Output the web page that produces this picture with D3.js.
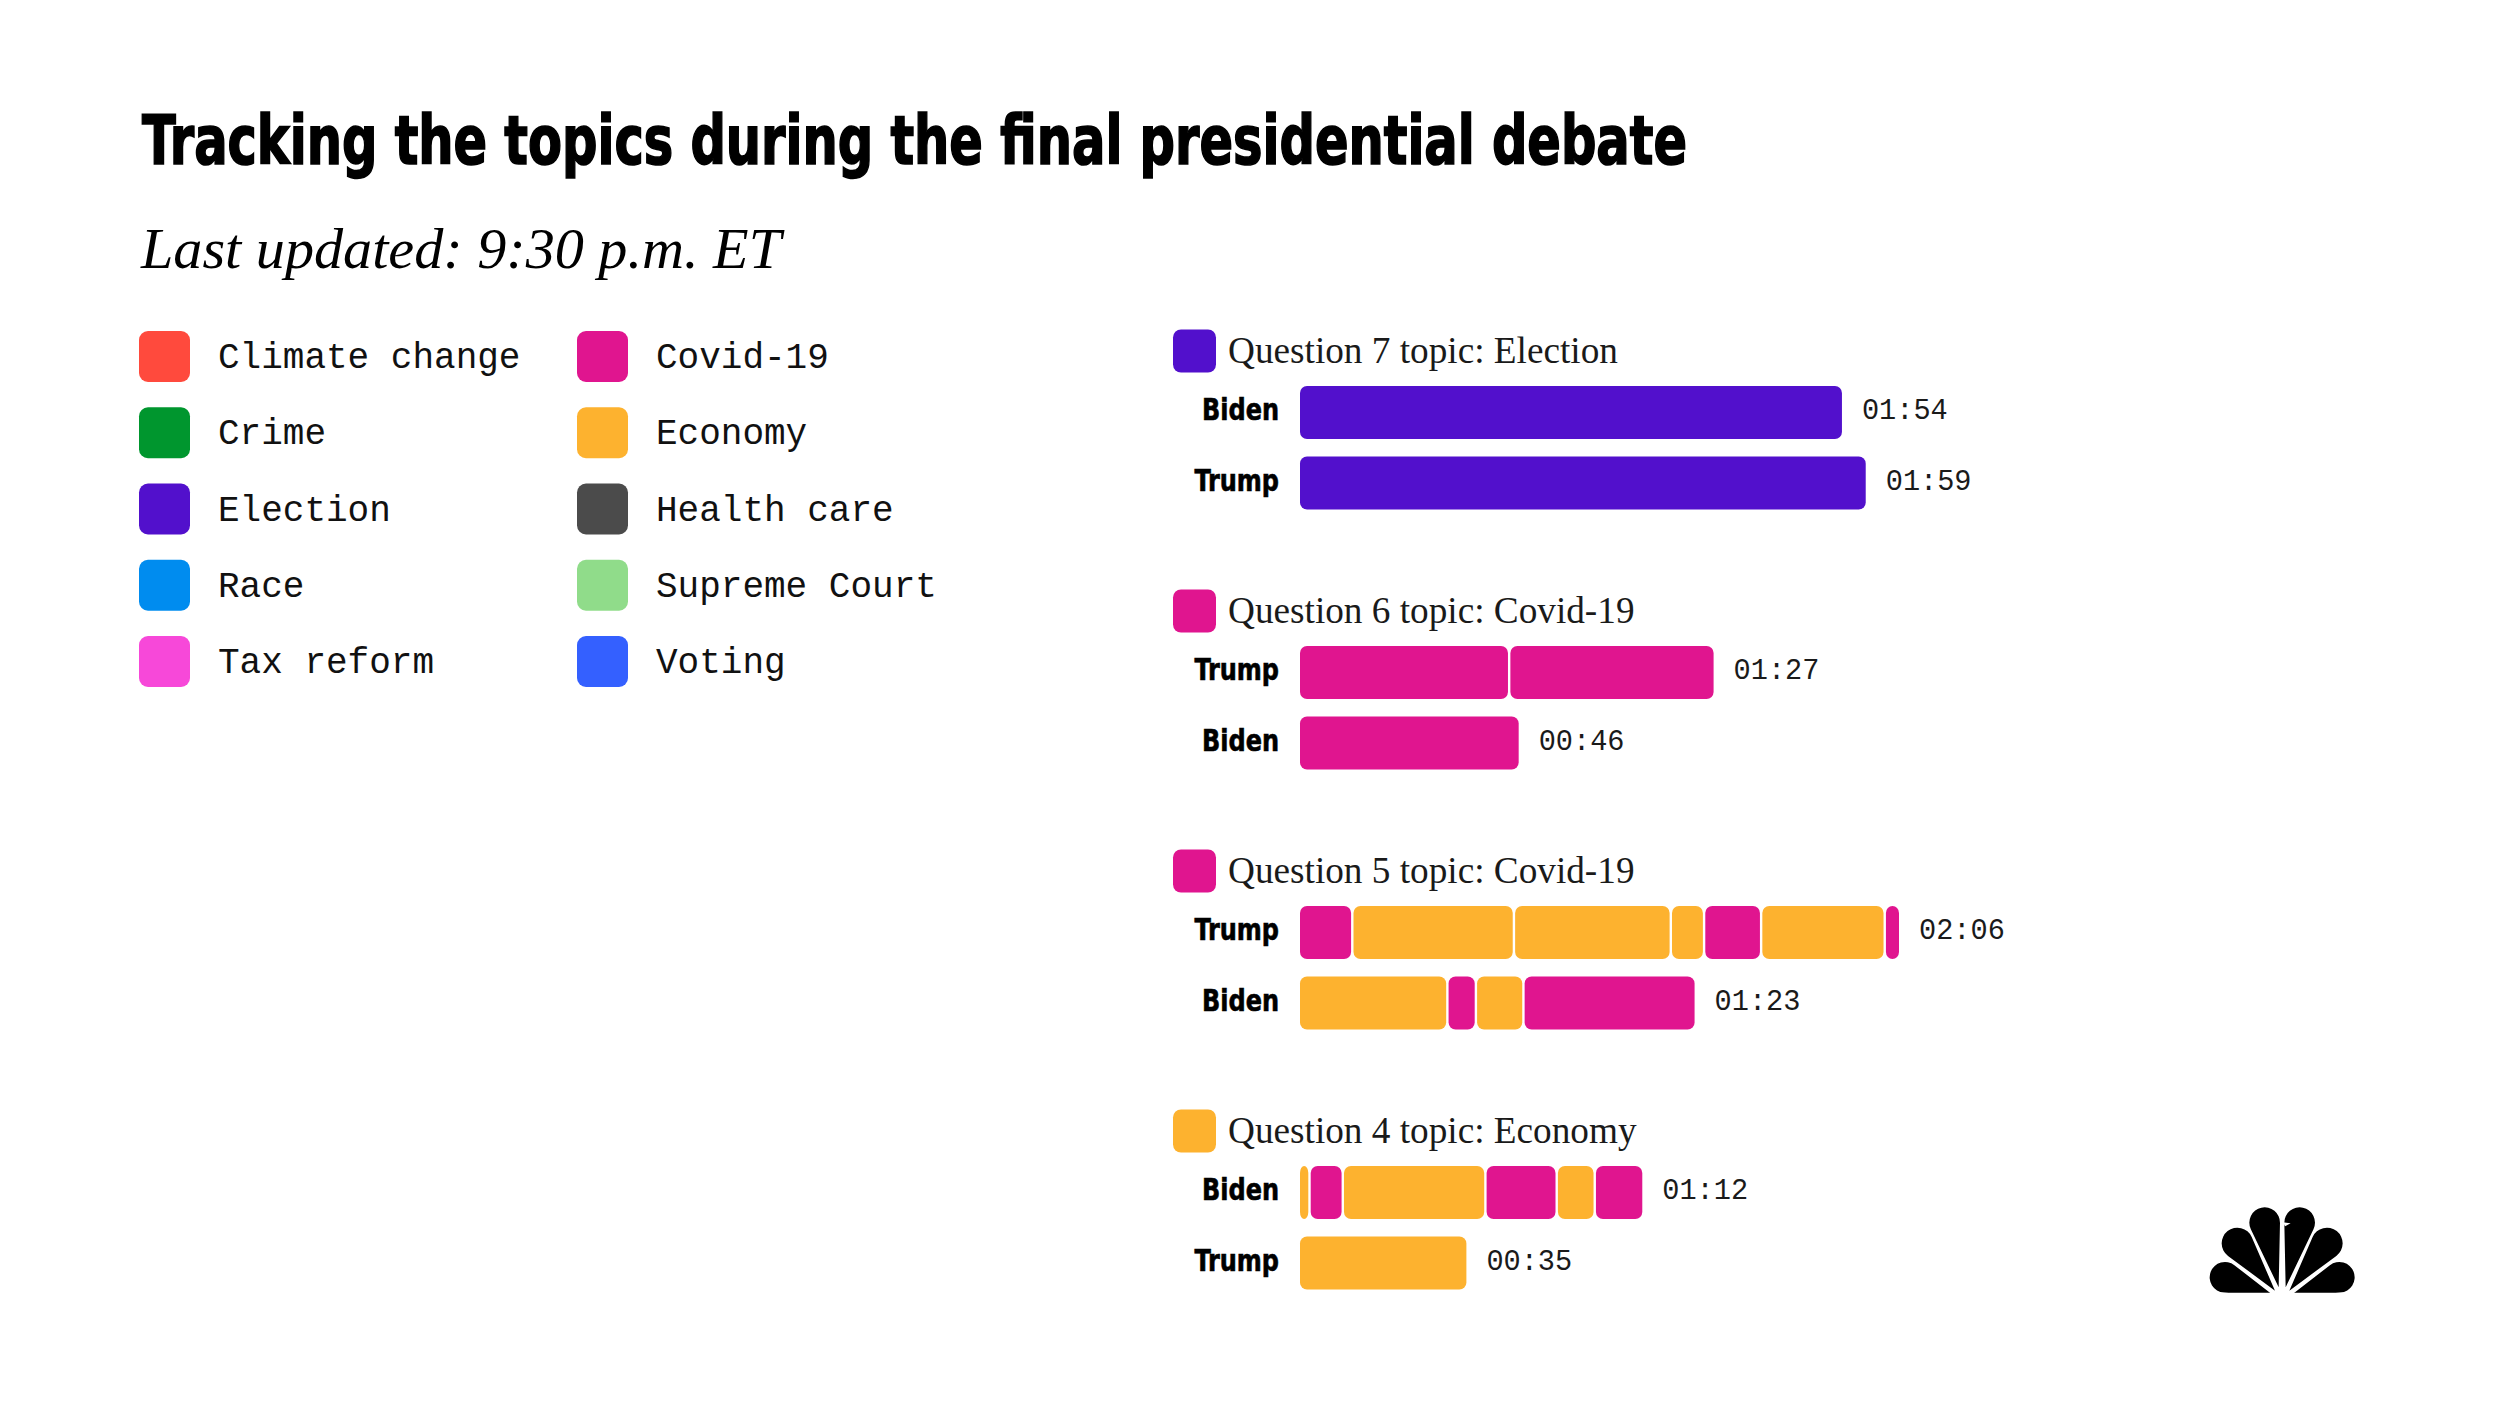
<!DOCTYPE html>
<html>
<head>
<meta charset="utf-8">
<script src="https://cdn.jsdelivr.net/npm/d3@7"></script>
<style>
  body { margin: 0; background: #fff; }
  svg { display: block; }
</style>
</head>
<body>
<svg id="svg"></svg>
<script>
// Topic legend
const topics = ['Climate change', 'Crime', 'Election', 'Race', 'Tax reform',
  'Covid-19', 'Economy', 'Health care', 'Supreme Court', 'Voting'];
const topicColors = ['#ff4a3d', '#00962e', '#5210cc', '#008cef', '#f748d9',
  '#e0158f', '#fdb22f', '#4b4b4b', '#90dc8a', '#3460ff'];

// Questions, top to bottom
const questionNumbers = [7, 6, 5, 4];
const questionTopics = ['Election', 'Covid-19', 'Covid-19', 'Economy'];
const speakers = [['Biden', 'Trump'], ['Trump', 'Biden'], ['Trump', 'Biden'], ['Biden', 'Trump']];

// Speaking segments (topic, seconds) per speaker row
const segmentTopics = [
  [['Election'], ['Election']],
  [['Covid-19', 'Covid-19'], ['Covid-19']],
  [['Covid-19', 'Economy', 'Economy', 'Economy', 'Covid-19', 'Economy', 'Covid-19'],
   ['Economy', 'Covid-19', 'Economy', 'Covid-19']],
  [['Economy', 'Covid-19', 'Economy', 'Covid-19', 'Economy', 'Covid-19'], ['Economy']]
];
const segmentSeconds = [
  [[114], [119]],
  [[44, 43], [46]],
  [[11, 34, 33, 7, 12, 26, 3], [31, 6, 10, 36]],
  [[2, 7, 30, 15, 8, 10], [35]]
];

const width = 2500;
const height = 1406;

const svg = d3.select('#svg')
  .attr('width', width)
  .attr('height', height);

svg.append('rect')
  .attr('width', width)
  .attr('height', height)
  .attr('fill', '#fff');

const color = d3.scaleOrdinal()
  .domain(topics)
  .range(topicColors);

const condensed = '"Liberation Sans Narrow", "DejaVu Sans Condensed", "Liberation Sans", sans-serif';

// Title + subtitle
svg.append('text')
  .attr('x', 142)
  .attr('y', 164)
  .attr('font-family', condensed)
  .attr('font-stretch', 'condensed')
  .attr('font-weight', 'bold')
  .attr('font-size', 68)
  .attr('textLength', 1545)
  .attr('lengthAdjust', 'spacingAndGlyphs')
  .attr('fill', '#000')
  .attr('stroke', '#000')
  .attr('stroke-width', 1.6)
  .text('Tracking the topics during the final presidential debate');

svg.append('text')
  .attr('x', 141)
  .attr('y', 268)
  .attr('font-family', '"Liberation Serif", serif')
  .attr('font-style', 'italic')
  .attr('font-size', 56)
  .attr('textLength', 640)
  .attr('lengthAdjust', 'spacingAndGlyphs')
  .attr('fill', '#000')
  .text('Last updated: 9:30 p.m. ET');

// Legend: two columns of five
const legendCol = d3.scaleOrdinal().domain([0, 1]).range([139, 577]);
const legendRow = d3.scaleLinear().domain([0, 4]).range([331, 636]);

const legend = svg.append('g')
  .selectAll('g')
  .data(topics)
  .join('g')
  .attr('transform', (d, i) => `translate(${legendCol(Math.floor(i / 5))},${legendRow(i % 5)})`);

legend.append('rect')
  .attr('width', 51)
  .attr('height', 51)
  .attr('rx', 9)
  .attr('fill', d => color(d));

legend.append('text')
  .attr('x', 79)
  .attr('y', 37)
  .attr('font-family', '"Liberation Mono", "DejaVu Sans Mono", monospace')
  .attr('font-size', 36)
  .attr('fill', '#111')
  .text(d => d);

// Bars
const x = d3.scaleLinear()
  .domain([0, 126])
  .range([0, 599]);

const barX = 1300;
const barH = 53;

const groupY = d3.scaleLinear().domain([0, 3]).range([329.5, 1109.5]);

const groups = svg.append('g')
  .selectAll('g')
  .data(questionNumbers)
  .join('g')
  .attr('transform', (d, i) => `translate(0,${groupY(i)})`);

groups.append('rect')
  .attr('x', 1173)
  .attr('width', 43)
  .attr('height', 43)
  .attr('rx', 8)
  .attr('fill', (d, i) => color(questionTopics[i]));

groups.append('text')
  .attr('x', 1228)
  .attr('y', 33)
  .attr('font-family', '"Liberation Serif", serif')
  .attr('font-size', 38)
  .attr('fill', '#1a1a1a')
  .each(function() {
    // keep the header a touch narrower, like the original serif
    const t = d3.select(this);
    t.attr('data-w', 1);
  })
  .text((d, i) => `Question ${d} topic: ${questionTopics[i]}`)
  .each(function() {
    const w = this.getComputedTextLength();
    d3.select(this)
      .attr('textLength', w * 0.98)
      .attr('lengthAdjust', 'spacingAndGlyphs');
  });

const fmt = s => `${String(Math.floor(s / 60)).padStart(2, '0')}:${String(s % 60).padStart(2, '0')}`;

groups.each(function(q, qi) {
  const g = d3.select(this);
  speakers[qi].forEach((name, si) => {
    const top = 56.5 + si * 70.5;
    const secs = segmentSeconds[qi][si];
    const total = d3.sum(secs);
    let start = 0;
    const segs = secs.map((s, k) => {
      const seg = { start: start, dur: s, topic: segmentTopics[qi][si][k] };
      start += s;
      return seg;
    });

    const label = g.append('text')
      .attr('x', 1279)
      .attr('y', top + 34)
      .attr('text-anchor', 'end')
      .attr('font-family', condensed)
      .attr('font-stretch', 'condensed')
      .attr('font-weight', 'bold')
      .attr('font-size', 31)
      .attr('fill', '#000')
      .attr('stroke', '#000')
      .attr('stroke-width', 0.6)
      .text(name);
    // squeeze the label so it's as narrow as the original
    label.attr('textLength', label.node().getComputedTextLength() * 0.86)
      .attr('lengthAdjust', 'spacingAndGlyphs');

    g.selectAll(null)
      .data(segs)
      .join('rect')
      .attr('x', d => barX + x(d.start) + (d.start > 0 ? 1.2 : 0))
      .attr('y', top)
      .attr('width', d => Math.max(2, x(d.dur) - (d.start > 0 ? 1.2 : 0) - (d.start + d.dur < total ? 1.2 : 0)))
      .attr('height', barH)
      .attr('rx', 7)
      .attr('fill', d => color(d.topic));

    g.append('text')
      .attr('x', barX + x(total) + 20)
      .attr('y', top + 33)
      .attr('font-family', '"Liberation Mono", "DejaVu Sans Mono", monospace')
      .attr('font-size', 28.6)
      .attr('fill', '#1a1a1a')
      .text(fmt(total));
  });
});

// NBC peacock logo (drawn in a 3x local space)
const logo = svg.append('g')
  .attr('transform', 'translate(2180,1180) scale(0.3333)');

logo.append('clipPath')
  .attr('id', 'logo-clip')
  .append('rect')
  .attr('x', 0)
  .attr('y', 0)
  .attr('width', 720)
  .attr('height', 338);

function feather(b, c, r) {
  const dx = c[0] - b[0], dy = c[1] - b[1];
  const d = Math.hypot(dx, dy);
  const phi = Math.atan2(dy, dx);
  const a = Math.asin(r / d);
  const t1 = phi + Math.PI + (Math.PI / 2 - a);
  const t2 = phi + Math.PI - (Math.PI / 2 - a);
  const p1 = [c[0] + r * Math.cos(t1), c[1] + r * Math.sin(t1)];
  const p2 = [c[0] + r * Math.cos(t2), c[1] + r * Math.sin(t2)];
  return `M${b[0]},${b[1]}L${p1[0]},${p1[1]}A${r},${r} 0 1 1 ${p2[0]},${p2[1]}Z`;
}

const leftFeathers = [
  { b: [285, 350], c: [135, 292], r: 46 },
  { b: [285, 332], c: [172, 190], r: 47 },
  { b: [296, 322], c: [254, 128], r: 46 }
];
const mid = 306.5;
const allFeathers = leftFeathers.concat(leftFeathers.map(f => ({
  b: [2 * mid - f.b[0], f.b[1]], c: [2 * mid - f.c[0], f.c[1]], r: f.r
})));

logo.append('g')
  .attr('clip-path', 'url(#logo-clip)')
  .selectAll('path')
  .data(allFeathers)
  .join('path')
  .attr('d', f => feather(f.b, f.c, f.r))
  .attr('fill', '#000');

// little notch for the head
logo.append('path')
  .attr('d', 'M309,127 L332,130 L315,139 Z')
  .attr('fill', '#fff');
</script>
</body>
</html>
